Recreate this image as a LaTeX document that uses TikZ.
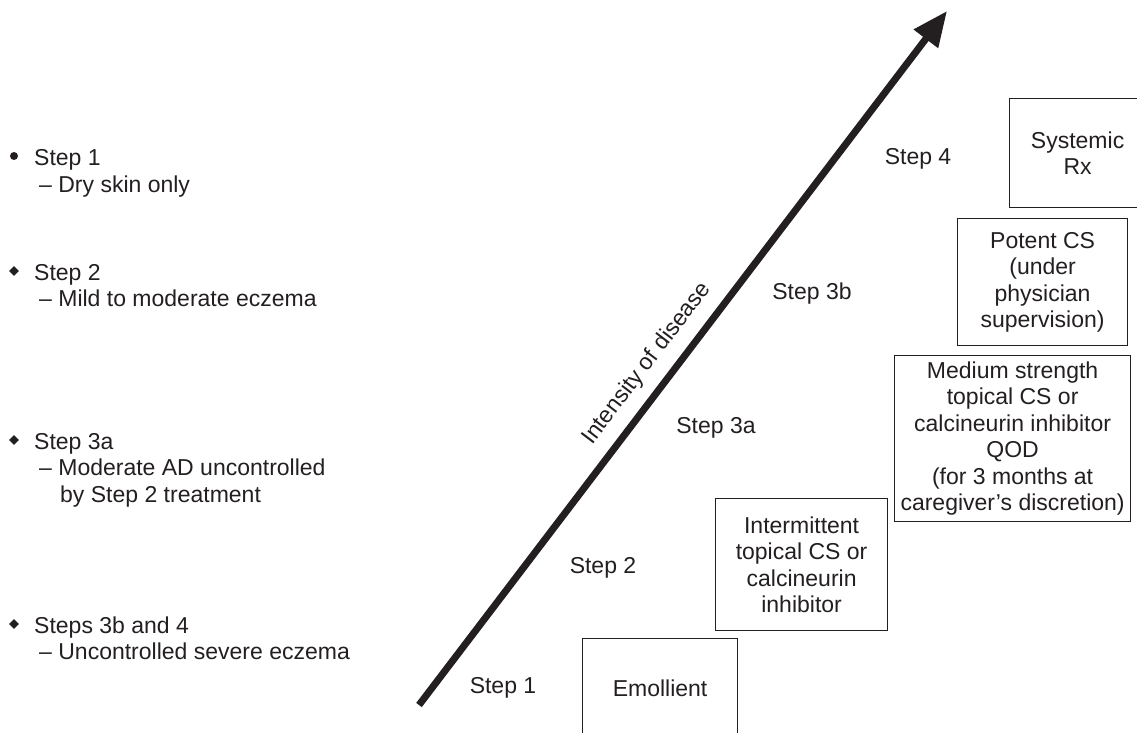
\documentclass[tikz,border=0pt]{standalone}
\usepackage{fontspec}
\setmainfont{Liberation Sans}
\usetikzlibrary{arrows.meta,shapes.geometric}
\definecolor{ink}{HTML}{231F20}
\begin{document}
\begin{tikzpicture}[x=1pt,y=-1pt,
  every node/.style={font=\fontsize{23}{26.5}\selectfont, text=ink},
  stepbox/.style={draw=ink, line width=1.2pt, anchor=north west, align=center, inner sep=0pt},
  steplabel/.style={anchor=center, inner sep=0pt},
  listtext/.style={anchor=base west, inner sep=0pt},
  dotbullet/.style={circle, fill=ink, minimum size=8pt, inner sep=0pt},
  diabullet/.style={diamond, fill=ink, minimum size=10pt, inner sep=0pt},
]
\useasboundingbox (0,0) rectangle (1137,732);

% arrow
\coordinate (as) at (419,705);
\coordinate (ae) at (947,11);
\draw[ink, line width=7pt, -{Triangle[length=35pt,width=29pt]}] (as) -- (ae)
  node[pos=0.47, sloped, above=11pt, inner sep=0pt] (lab) {Intensity of disease};

% boxes
\node[stepbox, minimum width=155pt, minimum height=100pt] (emo) at (582,638) {Emollient};
\node[stepbox, minimum width=172pt, minimum height=132pt] (int) at (715,498) {Intermittent\\topical CS or\\calcineurin\\inhibitor};
\node[stepbox, minimum width=236pt, minimum height=166pt] (med) at (894,355) {Medium strength\\topical CS or\\calcineurin inhibitor\\QOD\\(for 3 months at\\caregiver’s discretion)};
\node[stepbox, minimum width=170pt, minimum height=127pt] (pot) at (957,218) {Potent CS\\(under\\physician\\supervision)};
\node[stepbox, minimum width=136pt, minimum height=109pt] (sys) at (1009,98) {Systemic\\Rx};

% step labels
\node[steplabel] (s1) at (503,688) {Step 1};
\node[steplabel] (s2) at (603,568) {Step 2};
\node[steplabel] (s3a) at (716,428) {Step 3a};
\node[steplabel] (s3b) at (812,294) {Step 3b};
\node[steplabel] (s4) at (918,159) {Step 4};

% left list
\node[dotbullet] (b1) at (14,156) {};
\node[listtext] (l1) at (34,165) {Step 1};
\node[listtext] (l1a) at (39,192) {– Dry skin only};

\node[diabullet] (b2) at (14,271) {};
\node[listtext] (l2) at (34,280) {Step 2};
\node[listtext] (l2a) at (39,306) {– Mild to moderate eczema};

\node[diabullet] (b3) at (14,440) {};
\node[listtext] (l3) at (34,449) {Step 3a};
\node[listtext] (l3a) at (39,475) {– Moderate AD uncontrolled};
\node[listtext] (l3b) at (60,502) {by Step 2 treatment};

\node[diabullet] (b4) at (14,624) {};
\node[listtext] (l4) at (34,633) {Steps 3b and 4};
\node[listtext] (l4a) at (39,659) {– Uncontrolled severe eczema};
\end{tikzpicture}
\end{document}
